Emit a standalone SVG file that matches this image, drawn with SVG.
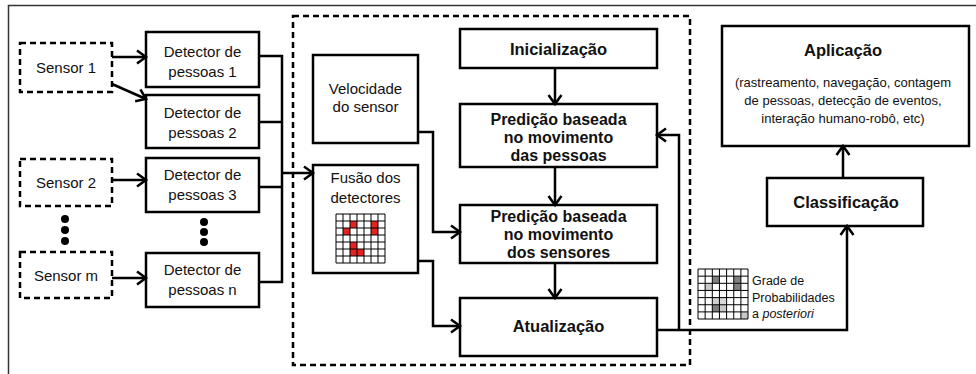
<svg xmlns="http://www.w3.org/2000/svg" width="976" height="374" viewBox="0 0 976 374">
<defs>
<style>
.box{fill:#fff;stroke:#000;stroke-width:2.5}
.dash{fill:#fff;stroke:#000;stroke-width:2.5;stroke-dasharray:6 4}
.t{font-family:"Liberation Sans",Arial,sans-serif;font-size:15px;text-anchor:middle;fill:#111}
.b{font-family:"Liberation Sans",Arial,sans-serif;font-size:16.5px;font-weight:bold;text-anchor:middle;fill:#111}
.bl{font-family:"Liberation Sans",Arial,sans-serif;font-size:16px;font-weight:bold;text-anchor:middle;fill:#111}
.s{font-family:"Liberation Sans",Arial,sans-serif;font-size:13px;text-anchor:middle;fill:#111}
.g{font-family:"Liberation Sans",Arial,sans-serif;font-size:12.5px;fill:#111}
.c{fill:none;stroke:#000;stroke-width:2.5}
.grid{fill:none;stroke:#000;stroke-width:1}
</style>
<marker id="ah" markerUnits="userSpaceOnUse" markerWidth="16" markerHeight="16" viewBox="0 0 16 16" refX="13" refY="8" orient="auto">
<path d="M4,1.5 L13,8 L4,14.5" fill="none" stroke="#000" stroke-width="2.5"/>
</marker>
</defs>
<rect width="976" height="374" fill="#fff"/>
<path d="M8.5,374 V5.5 H976" fill="none" stroke="#333" stroke-width="1.5"/>

<rect id="frame" x="293" y="16" width="397" height="349" class="dash" fill="none"/>

<g id="sensor1"><rect x="20" y="43" width="92" height="49" class="dash"/><text x="66" y="73" class="t">Sensor 1</text></g>
<g id="sensor2"><rect x="20" y="159" width="92" height="47" class="dash"/><text x="66" y="188" class="t">Sensor 2</text></g>
<g id="sensorm"><rect x="20" y="252" width="92" height="46" class="dash"/><text x="66" y="281" class="t">Sensor m</text></g>
<g id="sdots" fill="#000"><circle cx="65" cy="219" r="4"/><circle cx="65" cy="230" r="4"/><circle cx="65" cy="241" r="4"/></g>

<g id="det1"><rect x="146" y="32" width="113" height="55" class="box"/><text x="202.5" y="57" class="t">Detector de</text><text x="202.5" y="77" class="t">pessoas 1</text></g>
<g id="det2"><rect x="146" y="95" width="113" height="53" class="box"/><text x="202.5" y="118" class="t">Detector de</text><text x="202.5" y="138" class="t">pessoas 2</text></g>
<g id="det3"><rect x="146" y="158" width="113" height="54" class="box"/><text x="202.5" y="180" class="t">Detector de</text><text x="202.5" y="200" class="t">pessoas 3</text></g>
<g id="ddots" fill="#000"><circle cx="204" cy="222" r="4"/><circle cx="204" cy="232" r="4"/><circle cx="204" cy="242" r="4"/></g>
<g id="detn"><rect x="146" y="253" width="113" height="54" class="box"/><text x="202.5" y="275" class="t">Detector de</text><text x="202.5" y="295" class="t">pessoas n</text></g>

<g id="velocidade"><rect x="313" y="55" width="105" height="88" class="box"/><text x="365.5" y="94" class="t">Velocidade</text><text x="365.5" y="112" class="t">do sensor</text></g>
<g id="fusao"><rect x="313" y="165" width="105" height="108" class="box"/><text x="365.5" y="183" class="t">Fusão dos</text><text x="365.5" y="203" class="t">detectores</text>
<g>
<rect x="350" y="221" width="7" height="7" fill="#e32222"/><rect x="371" y="221" width="7" height="7" fill="#e32222"/>
<rect x="343" y="228" width="7" height="7" fill="#e32222"/><rect x="371" y="228" width="7" height="7" fill="#e32222"/>
<rect x="350" y="242" width="7" height="7" fill="#e32222"/><rect x="350" y="249" width="7" height="7" fill="#e32222"/><rect x="357" y="249" width="7" height="7" fill="#e32222"/>
<path class="grid" d="M336,214 H385 M336,221 H385 M336,228 H385 M336,235 H385 M336,242 H385 M336,249 H385 M336,256 H385 M336,263 H385 M336,214 V263 M343,214 V263 M350,214 V263 M357,214 V263 M364,214 V263 M371,214 V263 M378,214 V263 M385,214 V263"/>
</g></g>

<g id="inicializacao"><rect x="460" y="29" width="197" height="39" class="box"/><text x="558.5" y="55" class="b">Inicialização</text></g>
<g id="pred1"><rect x="460" y="104" width="197" height="63" class="box"/><text x="558.5" y="125" class="bl">Predição baseada</text><text x="558.5" y="143" class="bl">no movimento</text><text x="558.5" y="161" class="bl">das pessoas</text></g>
<g id="pred2"><rect x="460" y="205" width="197" height="58" class="box"/><text x="558.5" y="222" class="bl">Predição baseada</text><text x="558.5" y="240" class="bl">no movimento</text><text x="558.5" y="258" class="bl">dos sensores</text></g>
<g id="atualizacao"><rect x="460" y="298" width="197" height="58" class="box"/><text x="558.5" y="332" class="b">Atualização</text></g>

<g id="classificacao"><rect x="767" y="178" width="156" height="48" class="box"/><text x="846" y="208" class="b">Classificação</text></g>
<g id="aplicacao"><rect x="722" y="26" width="247" height="120" class="box"/><text x="843" y="56" class="b">Aplicação</text>
<text x="843" y="87" class="s">(rastreamento, navegação, contagem</text>
<text x="843" y="105" class="s">de pessoas, detecção de eventos,</text>
<text x="843" y="123" class="s">interação humano-robô, etc)</text></g>

<g id="grade">
<rect x="712.3" y="276.15" width="7.15" height="7.15" fill="#808080"/><rect x="733.75" y="276.15" width="7.15" height="7.15" fill="#808080"/>
<rect x="705.15" y="283.3" width="7.15" height="7.15" fill="#c8c8c8"/><rect x="733.75" y="283.3" width="7.15" height="7.15" fill="#808080"/>
<rect x="712.3" y="297.6" width="7.15" height="7.15" fill="#d0d0d0"/><rect x="719.45" y="297.6" width="7.15" height="7.15" fill="#d8d8d8"/>
<rect x="712.3" y="304.75" width="7.15" height="7.15" fill="#808080"/><rect x="719.45" y="304.75" width="7.15" height="7.15" fill="#c8c8c8"/>
<rect x="740.9" y="311.9" width="7.15" height="7.15" fill="#c8c8c8"/>
<path class="grid" stroke="#222" d="M698,269 H748 M698,276.15 H748 M698,283.3 H748 M698,290.45 H748 M698,297.6 H748 M698,304.75 H748 M698,311.9 H748 M698,319 H748 M698,269 V319 M705.15,269 V319 M712.3,269 V319 M719.45,269 V319 M726.6,269 V319 M733.75,269 V319 M740.9,269 V319 M748,269 V319"/>
<text x="752" y="284.5" class="g">Grade de</text>
<text x="752" y="301.5" class="g">Probabilidades</text>
<text x="752" y="318" class="g"><tspan>a </tspan><tspan font-style="italic">posteriori</tspan></text>
</g>

<g id="connectors">
<path class="c" d="M112,57 H146" marker-end="url(#ah)"/>
<path class="c" d="M112,84 L146,99" marker-end="url(#ah)"/>
<path class="c" d="M112,180 H146" marker-end="url(#ah)"/>
<path class="c" d="M112,278 H146" marker-end="url(#ah)"/>
<path class="c" d="M259,56 H282 M259,122 H282 M259,187 H282 M259,282 H282 M282,54.75 V283.25"/>
<path class="c" d="M282,173 H313" marker-end="url(#ah)"/>
<path class="c" d="M418,132 H433 V232 H460" marker-end="url(#ah)"/>
<path class="c" d="M418,261 H433 V326 H460" marker-end="url(#ah)"/>
<path class="c" d="M555,68 V104" marker-end="url(#ah)"/>
<path class="c" d="M555,167 V205" marker-end="url(#ah)"/>
<path class="c" d="M555,263 V298" marker-end="url(#ah)"/>
<path class="c" d="M679,330 V135 H657" marker-end="url(#ah)"/>
<path class="c" d="M657,330 H847 V226" marker-end="url(#ah)"/>
<path class="c" d="M843,178 V146" marker-end="url(#ah)"/>
</g>
</svg>
